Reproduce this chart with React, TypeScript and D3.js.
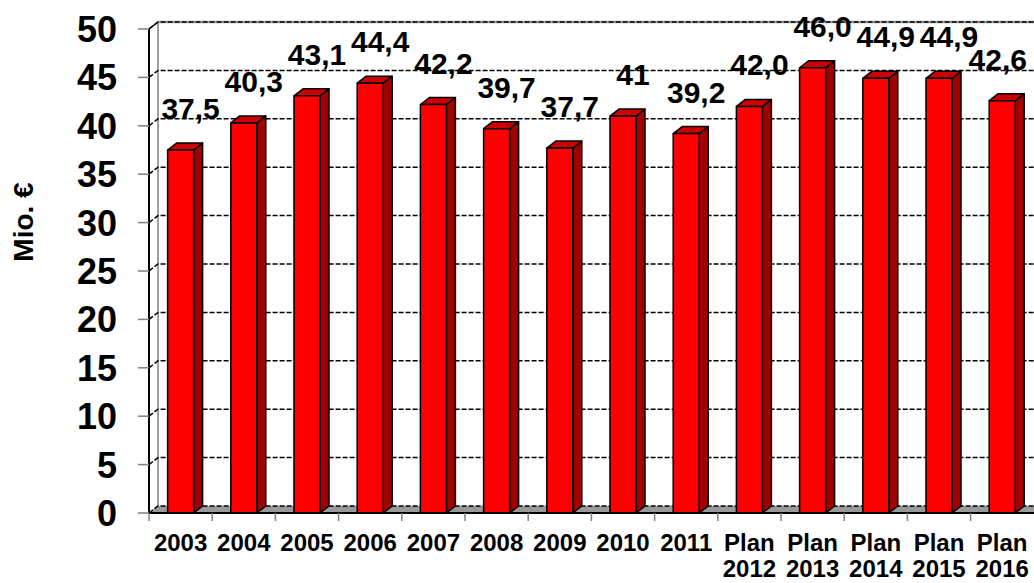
import React from "react";
import * as d3 from "d3";

const categories = ["2003", "2004", "2005", "2006", "2007", "2008", "2009", "2010", "2011", "Plan 2012", "Plan 2013", "Plan 2014", "Plan 2015", "Plan 2016"];
const values = [37.5, 40.3, 43.1, 44.4, 42.2, 39.7, 37.7, 41, 39.2, 42.0, 46.0, 44.9, 44.9, 42.6];
const valueLabels = ["37,5", "40,3", "43,1", "44,4", "42,2", "39,7", "37,7", "41", "39,2", "42,0", "46,0", "44,9", "44,9", "42,6"];
const yTicks = [0, 5, 10, 15, 20, 25, 30, 35, 40, 45, 50];
const yAxisTitle = "Mio. €";

const W = 1034;
const H = 583;
const X0 = 149;
const BAND = 63.2;
const DX = 9;
const DY = -7;
const BAR_W = 26;
const LABEL_SIZE = 30;
const FONT = "'Liberation Sans', Arial, Helvetica, sans-serif";

export default function App() {
  const x = d3.scaleBand<string>().domain(categories).range([X0, X0 + BAND * categories.length]).padding(0);
  const y = d3.scaleLinear().domain([0, 50]).range([513, 29]);
  const y0 = y(0);
  const right = W + 20;

  return (
    <svg width={W} height={H} style={{ position: "absolute", left: 0, top: 0, background: "#fff" }} fontFamily={FONT}>
      {/* floor */}
      <polygon points={`${X0},${y0} ${X0 + DX},${y0 + DY} ${right},${y0 + DY} ${right},${y0}`} fill="#999999" />
      {/* back wall left edge */}
      <line x1={X0 + DX} y1={y(50) + DY} x2={X0 + DX} y2={y0 + DY} stroke="#808080" strokeWidth={1.5} />
      {/* top of wall */}
      <line x1={X0 + DX} y1={y(50) + DY} x2={right} y2={y(50) + DY} stroke="#a0a0a0" strokeWidth={2.5} />
      {/* gridlines */}
      {yTicks.map((t) => (
        <path
          key={t}
          d={`M${X0},${y(t)} L${X0 + DX},${y(t) + DY} L${right},${y(t) + DY}`}
          fill="none"
          stroke="#000"
          strokeWidth={1.5}
          strokeDasharray="5,2"
        />
      ))}
      {/* y axis front */}
      <line x1={X0} y1={y(50)} x2={X0} y2={y0} stroke="#000" strokeWidth={2} />
      <line x1={X0} y1={y(50)} x2={X0 + DX} y2={y(50) + DY} stroke="#000" strokeWidth={1.5} />
      {yTicks.map((t) => (
        <g key={"yt" + t}>
          <line x1={X0 - 11} y1={y(t)} x2={X0} y2={y(t)} stroke="#808080" strokeWidth={1.5} />
          <text x={117} y={y(t) + 13} textAnchor="end" fontSize={36} fontWeight="bold" fill="#000">
            {t}
          </text>
        </g>
      ))}
      {/* bars */}
      {categories.map((c, i) => {
        const cx = (x(c) as number) + x.bandwidth() / 2;
        const xa = cx - BAR_W / 2;
        const xb = cx + BAR_W / 2;
        const yt = y(values[i]);
        return (
          <g key={c} stroke="#000" strokeWidth={1.5} strokeLinejoin="round">
            <polygon points={`${xb},${yt} ${xb + DX},${yt + DY} ${xb + DX},${y0 + DY} ${xb},${y0}`} fill="#a00000" />
            <polygon points={`${xa},${yt} ${xa + DX},${yt + DY} ${xb + DX},${yt + DY} ${xb},${yt}`} fill="#cc0000" />
            <rect x={xa} y={yt} width={BAR_W} height={y0 - yt} fill="#ff0000" />
          </g>
        );
      })}
      {/* x axis */}
      <line x1={X0} y1={y0} x2={right} y2={y0} stroke="#000" strokeWidth={2} />
      {categories.map((c, i) => (
        <line key={"xt" + i} x1={x(c) as number} y1={y0} x2={x(c) as number} y2={y0 + 8} stroke="#808080" strokeWidth={1.5} />
      ))}
      {categories.map((c) => {
        const cx = (x(c) as number) + x.bandwidth() / 2;
        const parts = c.split(" ");
        return (
          <text key={"xl" + c} x={cx} textAnchor="middle" fontSize={24} fontWeight="bold" fill="#000">
            {parts.map((p, j) => (
              <tspan key={j} x={cx} y={551 + j * 26}>
                {p}
              </tspan>
            ))}
          </text>
        );
      })}
      {/* value labels */}
      {categories.map((c, i) => {
        const cx = (x(c) as number) + x.bandwidth() / 2;
        const half = valueLabels[i].length * LABEL_SIZE * 0.26;
        const lx = Math.min(cx + 10, W - half - 5);
        return (
          <text key={"vl" + c} x={lx} y={y(values[i]) - 31} textAnchor="middle" fontSize={LABEL_SIZE} fontWeight="bold" fill="#000">
            {valueLabels[i]}
          </text>
        );
      })}
      {/* axis title */}
      <text transform={`translate(33,222) rotate(-90)`} textAnchor="middle" fontSize={28} fontWeight="bold" fill="#000">
        {yAxisTitle}
      </text>
    </svg>
  );
}
